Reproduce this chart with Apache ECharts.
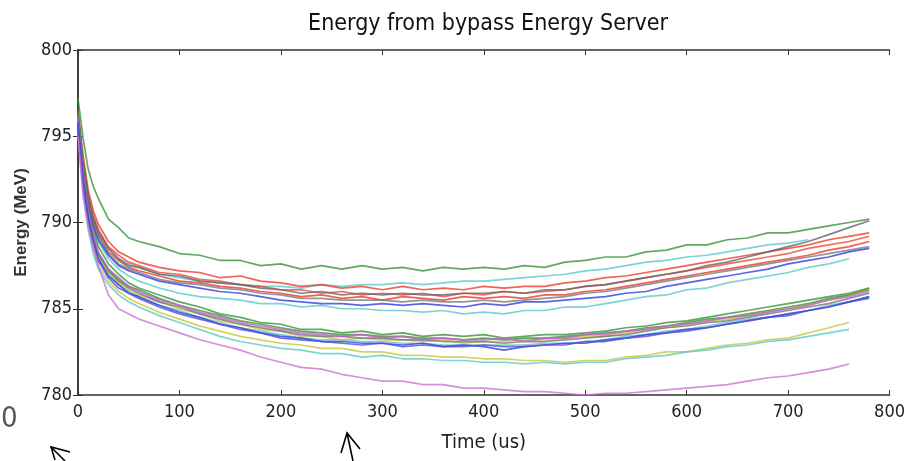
<!DOCTYPE html>
<html>
  <head>
    <meta charset="utf-8" />
    <title>Energy from bypass Energy Server</title>
    <script src="https://cdn.jsdelivr.net/npm/echarts@6/dist/echarts.min.js"></script>
  </head>
  <body style="margin:0;background:#fff;">
    <div id="container" style="width:908px;height:461px;"></div>
    <script type="text/javascript">
    // time samples (us)
    var times = [0,5,10,15,20,30,40,50,60,80,100,120,140,160,180,200,220,240,260,280,300,320,340,360,380,400,420,440,460,480,500,520,540,560,580,600,620,640,660,680,700,720,740,760,780];
    var xTicks = [0,100,200,300,400,500,600,700,800];
    var yTicks = [780,785,790,795,800];

    // energy traces (MeV)
    var greenTop = [797.2,794.9,793.1,792.1,791.4,790.2,789.7,789.1,788.9,788.6,788.2,788.1,787.8,787.8,787.5,787.6,787.3,787.5,787.3,787.5,787.3,787.4,787.2,787.4,787.3,787.4,787.3,787.5,787.4,787.7,787.8,788.0,788.0,788.3,788.4,788.7,788.7,789.0,789.1,789.4,789.4,789.6,789.8,790.0,790.2];
    var redA = [796.5,793.9,791.9,790.7,789.9,788.9,788.3,788.0,787.7,787.4,787.2,787.1,786.8,786.9,786.6,786.5,786.3,786.4,786.2,786.3,786.1,786.3,786.1,786.2,786.1,786.3,786.2,786.3,786.3,786.5,786.6,786.8,786.9,787.1,787.3,787.5,787.7,787.9,788.1,788.3,788.5,788.7,789.0,789.2,789.4];
    var redB = [796.2,793.6,791.6,790.4,789.6,788.6,788.1,787.7,787.5,787.1,787.0,786.7,786.6,786.4,786.3,786.1,786.1,785.9,786.0,785.8,785.9,785.8,785.9,785.7,785.9,785.8,786.0,785.9,786.0,786.1,786.3,786.4,786.6,786.8,787.0,787.2,787.4,787.6,787.8,788.0,788.2,788.5,788.7,788.9,789.2];
    var redC = [796.0,793.3,791.3,790.1,789.3,788.3,787.8,787.4,787.2,786.9,786.6,786.5,786.3,786.2,786.0,785.9,785.7,785.8,785.6,785.7,785.5,785.7,785.6,785.5,785.7,785.6,785.7,785.6,785.8,785.8,786.0,786.1,786.3,786.5,786.7,786.9,787.1,787.3,787.5,787.7,787.9,788.1,788.4,788.6,788.9];
    var grayA = [796.4,793.6,791.6,790.3,789.5,788.5,787.9,787.5,787.4,787.0,786.9,786.6,786.5,786.4,786.2,786.1,785.9,786.0,785.8,785.9,785.8,785.9,785.8,785.8,785.9,785.9,786.0,785.9,786.1,786.1,786.3,786.4,786.6,786.8,787.0,787.2,787.5,787.7,788.0,788.3,788.6,788.9,789.3,789.7,790.1];
    var grayB = [796.1,793.2,791.2,790.0,789.2,788.2,787.6,787.3,787.1,786.7,786.5,786.4,786.2,786.1,785.9,785.8,785.6,785.6,785.5,785.5,785.5,785.4,785.5,785.4,785.4,785.5,785.4,785.5,785.6,785.7,785.9,786.0,786.2,786.4,786.6,786.8,787.0,787.2,787.4,787.6,787.8,788.0,788.2,788.4,788.6];
    var blueA = [796.0,793.0,791.0,789.8,789.0,788.1,787.5,787.2,787.0,786.6,786.4,786.2,786.0,785.9,785.7,785.5,785.4,785.3,785.3,785.2,785.3,785.2,785.3,785.2,785.1,785.3,785.2,785.4,785.4,785.5,785.6,785.7,785.9,786.0,786.3,786.5,786.7,786.9,787.1,787.3,787.6,787.8,788.0,788.3,788.5];
    var cyanA = [796.2,793.4,791.4,790.2,789.4,788.5,787.9,787.6,787.4,787.0,786.8,786.6,786.5,786.4,786.3,786.3,786.2,786.4,786.3,786.4,786.4,786.5,786.4,786.5,786.6,786.6,786.7,786.8,786.9,787.0,787.2,787.3,787.5,787.7,787.8,788.0,788.1,788.3,788.5,788.7,788.8,789.0,null,null,null];
    var cyanB = [795.8,793.0,790.9,789.7,788.9,787.9,787.3,786.9,786.6,786.2,785.9,785.7,785.6,785.5,785.3,785.3,785.1,785.2,785.0,785.0,784.9,784.9,784.8,784.9,784.7,784.8,784.7,784.9,784.9,785.1,785.1,785.3,785.5,785.7,785.8,786.1,786.2,786.5,786.7,786.9,787.1,787.4,787.6,787.9,null];
    var greenA = [796.3,793.2,791.0,789.6,788.6,787.6,787.0,786.5,786.2,785.8,785.4,785.1,784.7,784.5,784.2,784.1,783.8,783.8,783.6,783.7,783.5,783.6,783.4,783.5,783.4,783.5,783.3,783.4,783.5,783.5,783.6,783.7,783.9,784.0,784.2,784.3,784.5,784.7,784.9,785.1,785.3,785.5,785.7,785.9,786.2];
    var greenB = [795.6,792.5,790.4,789.1,788.2,787.3,786.7,786.3,786.1,785.6,785.2,784.9,784.6,784.3,784.1,783.9,783.7,783.6,783.5,783.5,783.4,783.4,783.3,783.3,783.2,783.3,783.2,783.3,783.3,783.4,783.5,783.6,783.7,783.9,784.0,784.2,784.4,784.5,784.7,784.9,785.1,785.3,785.6,785.8,786.1];
    var magentaA = [796.1,792.9,790.7,789.3,788.3,787.3,786.8,786.3,786.0,785.5,785.2,784.8,784.5,784.2,784.0,783.8,783.6,783.5,783.4,783.5,783.3,783.4,783.2,783.3,783.2,783.2,783.3,783.1,783.3,783.3,783.5,783.5,783.7,783.8,784.0,784.1,784.3,784.5,784.6,784.8,785.0,785.2,785.5,785.7,786.0];
    var blueB = [795.8,792.5,790.3,788.9,787.9,786.9,786.4,785.9,785.7,785.2,784.8,784.5,784.1,783.9,783.6,783.4,783.3,783.1,783.1,783.0,783.0,782.9,783.0,782.8,782.9,782.8,782.6,782.8,782.9,783.0,783.0,783.2,783.3,783.5,783.6,783.8,783.9,784.1,784.3,784.5,784.7,784.9,785.1,785.4,785.7];
    var blueC = [795.5,792.3,790.1,788.8,787.8,786.8,786.2,785.9,785.6,785.1,784.7,784.4,784.1,783.8,783.6,783.3,783.2,783.1,783.0,782.9,783.0,782.8,782.9,782.8,782.8,782.9,782.8,782.8,782.9,782.9,783.1,783.1,783.3,783.4,783.6,783.7,783.9,784.1,784.3,784.5,784.6,784.9,785.1,785.4,785.6];
    var yellowA = [795.9,792.7,790.5,789.1,788.1,787.1,786.5,786.1,785.8,785.4,785.0,784.7,784.3,784.1,783.8,783.7,783.4,783.4,783.2,783.3,783.2,783.2,783.1,783.2,783.0,783.1,783.1,783.2,783.2,783.3,783.4,783.4,783.6,783.8,783.9,784.1,784.3,784.4,784.6,784.8,785.0,785.2,785.5,785.8,786.2];
    var cyanC = [795.7,792.6,790.4,789.0,788.0,787.0,786.4,786.0,785.7,785.2,784.9,784.5,784.2,783.9,783.7,783.5,783.3,783.2,783.2,783.1,783.1,783.0,783.0,782.9,782.9,782.9,782.9,782.9,783.0,783.0,783.1,783.2,783.4,783.5,783.7,783.8,784.0,784.2,784.4,784.5,784.7,784.9,785.2,785.4,785.7];
    var grayC = [796.2,792.9,790.7,789.2,788.2,787.2,786.6,786.2,785.9,785.4,785.1,784.7,784.4,784.1,783.9,783.7,783.5,783.4,783.4,783.3,783.3,783.2,783.2,783.1,783.1,783.1,783.0,783.1,783.1,783.2,783.3,783.4,783.5,783.7,783.9,784.0,784.2,784.3,784.5,784.7,784.9,785.1,785.3,785.6,785.9];
    var yellowLow = [795.5,792.0,789.8,788.4,787.5,786.6,786.0,785.6,785.3,784.8,784.4,784.0,783.7,783.4,783.2,783.0,782.9,782.7,782.7,782.5,782.5,782.3,782.3,782.2,782.2,782.1,782.1,782.0,782.0,781.9,782.0,782.0,782.2,782.3,782.5,782.5,782.7,782.9,783.0,783.2,783.3,783.6,783.9,784.2,null];
    var cyanLow = [795.3,791.8,789.6,788.2,787.3,786.4,785.8,785.4,785.1,784.6,784.2,783.8,783.4,783.1,782.9,782.7,782.6,782.4,782.4,782.2,782.3,782.1,782.1,782.0,782.0,781.9,781.9,781.8,781.9,781.8,781.9,781.9,782.1,782.2,782.3,782.5,782.6,782.8,782.9,783.1,783.2,783.4,783.6,783.8,null];
    var magentaLow = [795.0,791.5,789.8,788.6,787.5,785.8,785.0,784.7,784.4,784.0,783.6,783.2,782.9,782.6,782.2,781.9,781.6,781.5,781.2,781.0,780.8,780.8,780.6,780.6,780.4,780.4,780.3,780.2,780.2,780.1,780.0,780.1,780.1,780.2,780.3,780.4,780.5,780.6,780.8,781.0,781.1,781.3,781.5,781.8,null];

    var traces = [
        [greenTop, '#3a933a'],
        [cyanA, '#5cc8cc'], [cyanB, '#5cc8cc'],
        [redA, '#ee3b30'], [redB, '#f0483c'], [redC, '#e8392e'],
        [grayA, '#666666'], [grayB, '#7a7a7a'],
        [blueA, '#2f3fe0'],
        [yellowLow, '#c8c83c'], [cyanLow, '#5cc8cc'],
        [cyanC, '#5cc8cc'], [yellowA, '#c8c83c'], [grayC, '#777777'],
        [greenA, '#3a933a'], [greenB, '#3a933a'], [magentaA, '#c95ad0'],
        [blueB, '#3040e0'], [blueC, '#5a4ad8'],
        [magentaLow, '#d070d6']
    ];

    var series = traces.map(function (tr) {
        var pts = [];
        for (var i = 0; i < times.length; i++) {
            if (tr[0][i] != null) pts.push([times[i], tr[0][i]]);
        }
        return {
            type: 'line',
            data: pts,
            showSymbol: false,
            symbol: 'none',
            clip: true,
            lineStyle: { color: tr[1], width: 1.7, opacity: 0.8 },
            silent: true
        };
    });

    var font = "'Liberation Sans Narrow', 'DejaVu Sans Condensed', 'Liberation Sans', sans-serif";
    var axisLine = { show: true, lineStyle: { color: '#333', width: 1.5 } };

    var myChart = echarts.init(document.getElementById('container'));
    var option = {
        animation: false,
        backgroundColor: '#fff',
        title: {
            text: 'Energy from bypass Energy Server',
            left: 483, top: 8, textAlign: 'center',
            textStyle: { fontFamily: font, fontSize: 23, fontWeight: 'normal', color: '#111' }
        },
        grid: { left: 78, right: 18, top: 50, bottom: 66 },
        xAxis: [{
            type: 'value', min: 0, max: 800, interval: 100,
            name: 'Time (us)', nameLocation: 'middle', nameGap: 38,
            nameTextStyle: { fontFamily: font, fontSize: 20, color: '#222' },
            axisLine: axisLine,
            axisTick: { inside: true, length: 5, lineStyle: { color: '#333' } },
            axisLabel: { fontFamily: font, fontSize: 18, color: '#222', margin: 8,
                formatter: function (v) { return xTicks.indexOf(v) >= 0 ? String(v) : ''; } },
            splitLine: { show: false }
        }, {
            type: 'value', min: 0, max: 800, interval: 100, position: 'top',
            axisLine: axisLine,
            axisTick: { inside: true, length: 5, lineStyle: { color: '#333' } },
            axisLabel: { show: false }, splitLine: { show: false }
        }],
        yAxis: [{
            type: 'value', min: 780, max: 800, interval: 5,
            name: 'Energy (MeV)', nameLocation: 'middle', nameGap: 45, nameRotate: 90,
            nameTextStyle: { fontFamily: "'Liberation Sans', sans-serif", fontSize: 17, fontWeight: 'bold', color: '#333' },
            axisLine: axisLine,
            axisTick: { inside: true, length: 5, lineStyle: { color: '#333' } },
            axisLabel: { fontFamily: font, fontSize: 18, color: '#222', margin: 6,
                formatter: function (v) { return yTicks.indexOf(v) >= 0 ? String(v) : ''; } },
            splitLine: { show: false }
        }, {
            type: 'value', min: 780, max: 800, interval: 5, position: 'right',
            axisLine: axisLine,
            axisTick: { inside: true, length: 5, lineStyle: { color: '#333' } },
            axisLabel: { show: false }, splitLine: { show: false }
        }],
        graphic: [
            { type: 'text', left: 1, top: 405,
              style: { text: '0', fontFamily: font, fontSize: 29, fill: '#555' } },
            // arrows drawn on the picture
            { type: 'polyline', shape: { points: [[65, 461], [51, 447]] }, style: { stroke: '#000', lineWidth: 1.6, fill: null } },
            { type: 'polyline', shape: { points: [[70, 452], [51, 447], [55, 460]] }, style: { stroke: '#000', lineWidth: 1.6, fill: null } },
            { type: 'polyline', shape: { points: [[353, 461], [347, 433]] }, style: { stroke: '#000', lineWidth: 1.6, fill: null } },
            { type: 'polyline', shape: { points: [[341, 453], [347, 433], [360, 449]] }, style: { stroke: '#000', lineWidth: 1.6, fill: null } }
        ],
        series: series
    };
    myChart.setOption(option);
    window.addEventListener('resize', myChart.resize);
    </script>
  </body>
</html>
